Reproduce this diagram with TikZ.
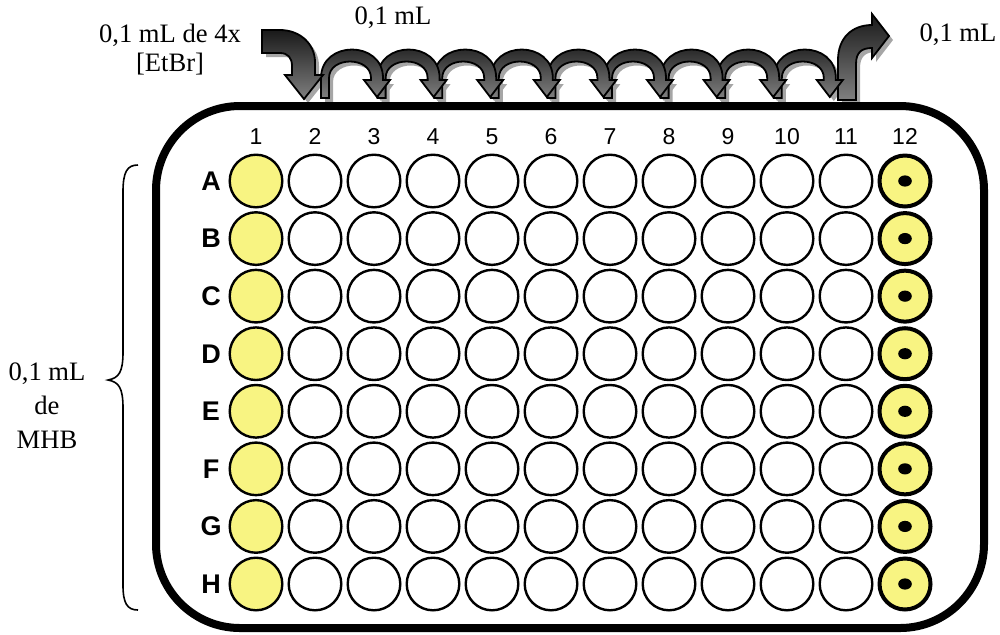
\documentclass[tikz,border=0pt]{standalone}
\usepackage{fontspec}
\setmainfont{Liberation Serif}
\newfontfamily\arialf{Liberation Sans}
\definecolor{wellyellow}{RGB}{248,244,130}
\begin{document}
\begin{tikzpicture}[x=0.5pt,y=-0.5pt,
  well/.style={circle,draw=black,line width=1.2pt,minimum size=26.3pt,inner sep=0pt},
  yellowwell/.style={well,fill=wellyellow},
  endwell/.style={well,fill=wellyellow,line width=2pt,minimum size=25.5pt},
  collabel/.style={font=\arialf\fontsize{11.5}{13}\selectfont,inner sep=0pt,anchor=base},
  rowlabel/.style={font=\arialf\bfseries\fontsize{13.5}{15}\selectfont,inner sep=0pt},
  txt/.style={font=\fontsize{13.3}{14.5}\selectfont,align=center,inner sep=0pt},
  txtl/.style={font=\fontsize{13.3}{17}\selectfont,align=center,inner sep=0pt},
  arrowbody/.style={draw=black,line width=0.9pt,top color=black!90,bottom color=black!50},
  arrowshadow/.style={fill=black!35,shift={(4,4)}}]
\useasboundingbox (0,0) rectangle (1000,634);

% ---------- arrows: shadows ----------
\foreach \k in {0,...,8}{
  \pgfmathsetmacro\R{377+56.6*\k}
  \pgfmathsetmacro\L{\R-52}
  \fill[arrowshadow] (\L-4,98) -- (\L-4,78) .. controls (\L-4,40) and (\R+6,40) .. (\R+6,78) -- (\R+6,80) -- (\R+13,80) -- (\R,97) -- (\R-13,80) -- (\R-6,80) -- (\R-6,78) .. controls (\R-6,56) and (\L+4,56) .. (\L+4,78) -- (\L+4,98) -- cycle;
}
\fill[arrowshadow] (262,30) -- (280,30) .. controls (300,30) and (315,44) .. (315,62) -- (315,75) -- (323,75) -- (304,99) -- (285,75) -- (292,75) -- (292,66) .. controls (292,58) and (288,53) .. (280,53) -- (262,53) -- cycle;
\fill[arrowshadow] (838,100) -- (838,60) .. controls (838,38) and (852,25) .. (872,25) -- (872,14) -- (889,36) -- (872,58) -- (872,48) .. controls (862,48) and (856,52) .. (856,64) -- (856,100) -- cycle;

% ---------- arrows: bodies ----------
\shadedraw[arrowbody] (838,100) -- (838,60) .. controls (838,38) and (852,25) .. (872,25) -- (872,14) -- (889,36) -- (872,58) -- (872,48) .. controls (862,48) and (856,52) .. (856,64) -- (856,100) -- cycle;
\foreach \k in {8,7,...,0}{
  \pgfmathsetmacro\R{377+56.6*\k}
  \pgfmathsetmacro\L{\R-52}
  \shadedraw[arrowbody] (\L-4,98) -- (\L-4,78) .. controls (\L-4,40) and (\R+6,40) .. (\R+6,78) -- (\R+6,80) -- (\R+13,80) -- (\R,97) -- (\R-13,80) -- (\R-6,80) -- (\R-6,78) .. controls (\R-6,56) and (\L+4,56) .. (\L+4,78) -- (\L+4,98) -- cycle;
}
\shadedraw[arrowbody] (262,30) -- (280,30) .. controls (300,30) and (315,44) .. (315,62) -- (315,75) -- (323,75) -- (304,99) -- (285,75) -- (292,75) -- (292,66) .. controls (292,58) and (288,53) .. (280,53) -- (262,53) -- cycle;

% ---------- plate ----------
\fill[white,rounded corners=42pt] (156,106) rectangle (984,628);
\draw[line width=4pt,rounded corners=42pt] (156,106) rectangle (984,628);

% ---------- labels ----------
\node[txt] (lblin) at (170,50) {0,1 mL de 4x\\{}[EtBr]};
\node[txt] (lbltop) at (393,18) {0,1 mL};
\node[txt] (lblout) at (958,35) {0,1 mL};
\node[txtl] (lblmhb) at (47,406) {0,1 mL\\de\\MHB};

% brace
\draw[line width=0.8pt] (138,165) .. controls (127,165) and (123,172) .. (123,192) -- (123,352) .. controls (123,372) and (119,378) .. (108,380) .. controls (119,382) and (123,388) .. (123,408) -- (123,585) .. controls (123,603) and (127,610) .. (138,610);

% column labels
\foreach \c in {1,...,12}{
  \node[collabel] (col\c) at ({256+59*(\c-1)},144) {\c};
}
% rows and wells
\foreach \r [count=\j from 0] in {A,B,C,D,E,F,G,H}{
  \pgfmathsetmacro\yy{181+57.57*\j}
  \node[rowlabel] (row\r) at (211,\yy) {\r};
  \node[yellowwell] (w\r1) at (256,\yy) {};
  \foreach \c in {2,...,11}{
    \node[well] (w\r\c) at ({256+59*(\c-1)},\yy) {};
  }
  \node[endwell] (w\r12) at (905,\yy) {};
  \fill (w\r12.center) ellipse [x radius=3.4pt, y radius=2.8pt];
}
\end{tikzpicture}
\end{document}
